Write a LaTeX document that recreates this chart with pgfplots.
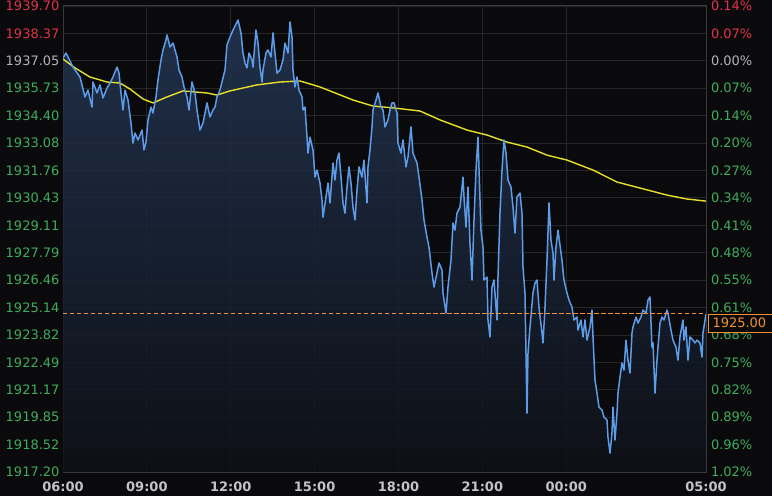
\documentclass[border=0pt]{standalone}
\usepackage{fontspec}
\setmainfont{DejaVu Sans}
\usepackage{pgfplots}
\pgfplotsset{compat=1.18}
\usepackage{pgfplotstable}
\definecolor{bg}{RGB}{10,10,12}
\definecolor{gridc}{RGB}{38,38,40}
\definecolor{axisc}{RGB}{58,58,60}
\definecolor{tred}{RGB}{222,52,72}
\definecolor{tgreen}{RGB}{62,172,92}
\definecolor{tgray}{RGB}{178,178,180}
\definecolor{xlab}{RGB}{196,196,198}
\definecolor{bluec}{RGB}{92,156,232}
\definecolor{yel}{RGB}{232,224,40}
\definecolor{orangec}{RGB}{240,146,50}
\definecolor{filltop}{RGB}{36,54,84}
\definecolor{fillbot}{RGB}{14,17,24}
\newcommand\tfont{\fontsize{13bp}{15bp}\selectfont}

\pgfplotstableread{
h p
0 1937.19
0.107 1937.43
0.358 1936.75
0.608 1936.27
0.787 1935.31
0.894 1935.64
1.037 1934.82
1.073 1936.03
1.216 1935.50
1.323 1935.89
1.431 1935.26
1.574 1935.74
1.681 1935.98
1.788 1936.27
1.860 1936.51
1.932 1936.75
2.003 1936.46
2.075 1935.50
2.146 1934.68
2.218 1935.64
2.325 1935.16
2.432 1934.05
2.504 1933.08
2.575 1933.57
2.683 1933.23
2.826 1933.71
2.897 1932.75
2.969 1933.13
3.040 1934.20
3.148 1934.82
3.219 1934.53
3.327 1935.31
3.398 1936.13
3.505 1937.09
3.577 1937.58
3.684 1938.06
3.720 1938.30
3.827 1937.72
3.935 1937.91
4.078 1937.24
4.149 1936.61
4.256 1936.27
4.328 1935.79
4.435 1935.31
4.507 1934.68
4.614 1936.03
4.722 1935.50
4.793 1934.68
4.900 1933.71
5.008 1934.05
5.079 1934.53
5.151 1935.02
5.258 1934.34
5.365 1934.68
5.437 1934.82
5.508 1935.31
5.616 1935.64
5.723 1936.22
5.795 1936.61
5.866 1937.82
5.973 1938.20
6.081 1938.54
6.260 1939.02
6.367 1938.40
6.438 1937.43
6.510 1936.95
6.581 1936.71
6.653 1937.43
6.760 1937.09
6.796 1936.75
6.903 1938.54
6.975 1937.91
7.046 1936.75
7.118 1936.03
7.154 1936.61
7.261 1937.43
7.333 1937.58
7.440 1937.24
7.511 1938.40
7.583 1937.43
7.655 1936.46
7.762 1936.61
7.869 1937.09
7.941 1937.91
8.048 1937.43
8.120 1938.93
8.191 1938.20
8.227 1936.61
8.298 1935.79
8.370 1936.27
8.441 1935.64
8.549 1935.31
8.585 1934.68
8.656 1934.82
8.728 1933.37
8.763 1932.60
8.835 1933.37
8.942 1932.75
9.014 1931.44
9.085 1931.78
9.193 1931.15
9.264 1930.33
9.300 1929.51
9.407 1930.48
9.479 1931.15
9.550 1930.19
9.658 1932.12
9.729 1931.30
9.801 1932.26
9.872 1932.60
9.944 1931.44
10.015 1930.19
10.087 1929.70
10.158 1930.96
10.230 1931.93
10.301 1931.15
10.373 1929.99
10.445 1929.37
10.516 1930.81
10.588 1931.93
10.695 1931.44
10.766 1932.26
10.874 1930.19
10.910 1931.93
10.981 1932.75
11.053 1933.86
11.088 1934.68
11.196 1935.16
11.267 1935.50
11.375 1934.82
11.446 1934.68
11.518 1933.86
11.625 1934.20
11.696 1934.68
11.768 1935.02
11.840 1935.02
11.947 1934.53
11.983 1933.08
12.090 1932.60
12.161 1933.23
12.269 1931.93
12.340 1932.41
12.448 1933.86
12.519 1932.60
12.662 1932.12
12.734 1931.44
12.841 1930.33
12.913 1929.37
13.020 1928.54
13.091 1928.06
13.199 1926.81
13.270 1926.13
13.378 1926.81
13.449 1927.29
13.556 1926.95
13.592 1925.84
13.700 1924.87
13.771 1926.13
13.878 1927.43
13.950 1929.22
14.021 1928.88
14.093 1929.70
14.200 1929.99
14.308 1931.44
14.343 1930.48
14.415 1929.03
14.486 1930.96
14.558 1928.25
14.630 1926.47
14.701 1929.37
14.773 1931.78
14.844 1933.37
14.951 1928.88
15.023 1928.06
15.059 1926.47
15.166 1926.61
15.202 1924.54
15.273 1923.72
15.345 1926.13
15.416 1926.47
15.524 1924.54
15.560 1926.61
15.631 1929.70
15.703 1931.78
15.774 1933.23
15.846 1932.60
15.917 1931.30
16.024 1930.96
16.096 1929.99
16.168 1928.74
16.239 1930.48
16.346 1930.67
16.418 1929.70
16.454 1927.10
16.525 1925.84
16.597 1920.04
16.633 1922.94
16.704 1924.20
16.811 1925.84
16.883 1926.32
16.955 1926.47
17.026 1925.16
17.133 1923.91
17.169 1923.43
17.241 1925.16
17.312 1927.43
17.348 1928.74
17.384 1930.19
17.455 1928.40
17.527 1927.77
17.563 1926.47
17.634 1928.06
17.706 1928.88
17.777 1928.16
17.849 1927.43
17.920 1926.47
18.028 1925.84
18.099 1925.50
18.206 1925.16
18.278 1924.54
18.385 1924.68
18.421 1924.05
18.528 1924.54
18.600 1923.72
18.671 1924.54
18.743 1923.57
18.850 1924.20
18.922 1925.02
18.958 1923.72
19.029 1921.64
19.101 1921.01
19.172 1920.33
19.280 1920.19
19.351 1919.85
19.458 1919.71
19.494 1918.89
19.566 1918.11
19.637 1919.08
19.673 1920.33
19.744 1918.74
19.816 1920.04
19.852 1921.01
19.923 1921.78
19.995 1922.46
20.066 1922.12
20.138 1923.57
20.209 1922.60
20.281 1921.98
20.353 1923.91
20.388 1924.20
20.496 1924.68
20.567 1924.39
20.674 1924.68
20.746 1925.02
20.853 1924.87
20.925 1925.50
20.996 1925.65
21.068 1923.23
21.104 1923.43
21.175 1921.01
21.247 1922.60
21.283 1923.23
21.354 1924.39
21.426 1924.68
21.497 1924.54
21.605 1925.02
21.640 1924.87
21.748 1924.05
21.819 1923.57
21.926 1923.23
21.998 1922.60
22.069 1923.72
22.177 1924.54
22.213 1923.57
22.284 1924.20
22.356 1922.60
22.427 1923.72
22.534 1923.57
22.606 1923.43
22.678 1923.57
22.785 1923.43
22.856 1922.75
22.892 1923.91
23.0 1924.83
}\blueT

\pgfplotstableread{
h p
0 1937.14
0.429 1936.71
0.966 1936.27
1.574 1936.03
2.039 1935.98
2.397 1935.69
2.862 1935.21
3.219 1935.02
3.720 1935.31
4.292 1935.60
5.151 1935.50
5.508 1935.40
5.973 1935.60
6.939 1935.89
7.762 1936.03
8.477 1936.08
9.193 1935.79
10.373 1935.16
11.088 1934.87
11.875 1934.77
12.769 1934.63
13.485 1934.20
14.451 1933.71
15.166 1933.47
15.881 1933.13
16.597 1932.89
17.312 1932.50
18.028 1932.26
18.958 1931.78
19.816 1931.20
20.639 1930.91
21.605 1930.57
22.320 1930.38
23.0 1930.28
}\yelT

\pgfplotstableread{
h p
0.08 1924.85
0.33 1924.85
0.58 1924.85
0.83 1924.85
1.08 1924.85
1.33 1924.85
1.58 1924.85
1.83 1924.85
2.08 1924.85
2.33 1924.85
2.58 1924.85
2.83 1924.85
3.08 1924.85
3.33 1924.85
3.58 1924.85
3.83 1924.85
4.08 1924.85
4.33 1924.85
4.58 1924.85
4.83 1924.85
5.08 1924.85
5.33 1924.85
5.58 1924.85
5.83 1924.85
6.08 1924.85
6.33 1924.85
6.58 1924.85
6.83 1924.85
7.08 1924.85
7.33 1924.85
7.58 1924.85
7.83 1924.85
8.08 1924.85
8.33 1924.85
8.58 1924.85
8.83 1924.85
9.08 1924.85
9.33 1924.85
9.58 1924.85
9.83 1924.85
10.08 1924.85
10.33 1924.85
10.58 1924.85
10.83 1924.85
11.08 1924.85
11.33 1924.85
11.58 1924.85
11.83 1924.85
12.08 1924.85
12.33 1924.85
12.58 1924.85
12.83 1924.85
13.08 1924.85
13.33 1924.85
13.58 1924.85
13.83 1924.85
14.08 1924.85
14.33 1924.85
14.58 1924.85
14.83 1924.85
15.08 1924.85
15.33 1924.85
15.58 1924.85
15.83 1924.85
16.08 1924.85
16.33 1924.85
16.58 1924.85
16.83 1924.85
17.08 1924.85
17.33 1924.85
17.58 1924.85
17.83 1924.85
18.08 1924.85
18.33 1924.85
18.58 1924.85
18.83 1924.85
19.08 1924.85
19.33 1924.85
19.58 1924.85
19.83 1924.85
20.08 1924.85
20.33 1924.85
20.58 1924.85
20.83 1924.85
21.08 1924.85
21.33 1924.85
21.58 1924.85
21.83 1924.85
22.08 1924.85
22.33 1924.85
22.58 1924.85
22.83 1924.85
}\lastT

\begin{document}
\begin{tikzpicture}
\fill[bg] (0,0) rectangle (772bp,496bp);
\begin{axis}[
  at={(63bp,24bp)}, anchor=south west,
  scale only axis, width=643bp, height=466bp,
  xmin=0, xmax=23, ymin=1917.2, ymax=1939.7,
  xtick={0,3,6,9,12,15,18,23},
  xticklabels={06:00,09:00,12:00,15:00,18:00,21:00,00:00,05:00},
  ytick={1917.2,1918.5235,1919.8471,1921.1706,1922.4941,1923.8176,1925.1412,1926.4647,1927.7882,1929.1118,1930.4353,1931.7588,1933.0824,1934.4059,1935.7294,1937.0529,1938.3765,1939.7},
  yticklabels={\textcolor{tgreen}{1917.20},\textcolor{tgreen}{1918.52},\textcolor{tgreen}{1919.85},\textcolor{tgreen}{1921.17},\textcolor{tgreen}{1922.49},\textcolor{tgreen}{1923.82},\textcolor{tgreen}{1925.14},\textcolor{tgreen}{1926.46},\textcolor{tgreen}{1927.79},\textcolor{tgreen}{1929.11},\textcolor{tgreen}{1930.43},\textcolor{tgreen}{1931.76},\textcolor{tgreen}{1933.08},\textcolor{tgreen}{1934.40},\textcolor{tgreen}{1935.73},\textcolor{tgray}{1937.05},\textcolor{tred}{1938.37},\textcolor{tred}{1939.70}},
  grid=major, major grid style={draw=gridc, line width=0.8bp},
  major tick length=0pt,
  axis line style={draw=axisc, line width=1bp},
  xticklabel style={font=\tfont\bfseries, text=xlab, yshift=-6bp},
  yticklabel style={font=\tfont, xshift=0bp},
]
\addplot[draw=none, fill opacity=0.85, top color=filltop, bottom color=fillbot] table[x=h,y=p]{\blueT} \closedcycle;
\addplot[draw=yel, line width=1.4bp] table[x=h,y=p]{\yelT};
\addplot[draw=bluec, line width=1.5bp, line join=round] table[x=h,y=p]{\blueT};
\addplot[only marks, mark=-, mark size=2.2bp, mark options={draw=orangec, line width=1.3bp, solid}] table[x=h,y=p]{\lastT};
\coordinate (L) at (axis cs:23,1924.85);
\end{axis}
\begin{axis}[
  at={(63bp,24bp)}, anchor=south west,
  scale only axis, width=643bp, height=466bp,
  xmin=0, xmax=23, ymin=1917.2, ymax=1939.7,
  axis x line=none, axis y line*=right,
  ytick={1917.2,1918.5235,1919.8471,1921.1706,1922.4941,1923.8176,1925.1412,1926.4647,1927.7882,1929.1118,1930.4353,1931.7588,1933.0824,1934.4059,1935.7294,1937.0529,1938.3765,1939.7},
  yticklabels={\textcolor{tgreen}{1.02\%},\textcolor{tgreen}{0.96\%},\textcolor{tgreen}{0.89\%},\textcolor{tgreen}{0.82\%},\textcolor{tgreen}{0.75\%},\textcolor{tgreen}{0.68\%},\textcolor{tgreen}{0.61\%},\textcolor{tgreen}{0.55\%},\textcolor{tgreen}{0.48\%},\textcolor{tgreen}{0.41\%},\textcolor{tgreen}{0.34\%},\textcolor{tgreen}{0.27\%},\textcolor{tgreen}{0.20\%},\textcolor{tgreen}{0.14\%},\textcolor{tgreen}{0.07\%},\textcolor{tgray}{0.00\%},\textcolor{tred}{0.07\%},\textcolor{tred}{0.14\%}},
  major tick length=0pt,
  axis line style={draw=axisc, line width=1bp},
  yticklabel style={font=\tfont, xshift=1.5bp},
]
\end{axis}
\node[draw=orangec, line width=1bp, fill=bg, text=orangec, font=\tfont, anchor=north west, minimum height=18bp, minimum width=80bp, inner xsep=4bp, text depth=0pt, align=left] at ([xshift=2bp]L) {1925.00\hspace{20bp}};
\pgfresetboundingbox
\useasboundingbox (0,0) rectangle (772bp,496bp);
\end{tikzpicture}
\end{document}
